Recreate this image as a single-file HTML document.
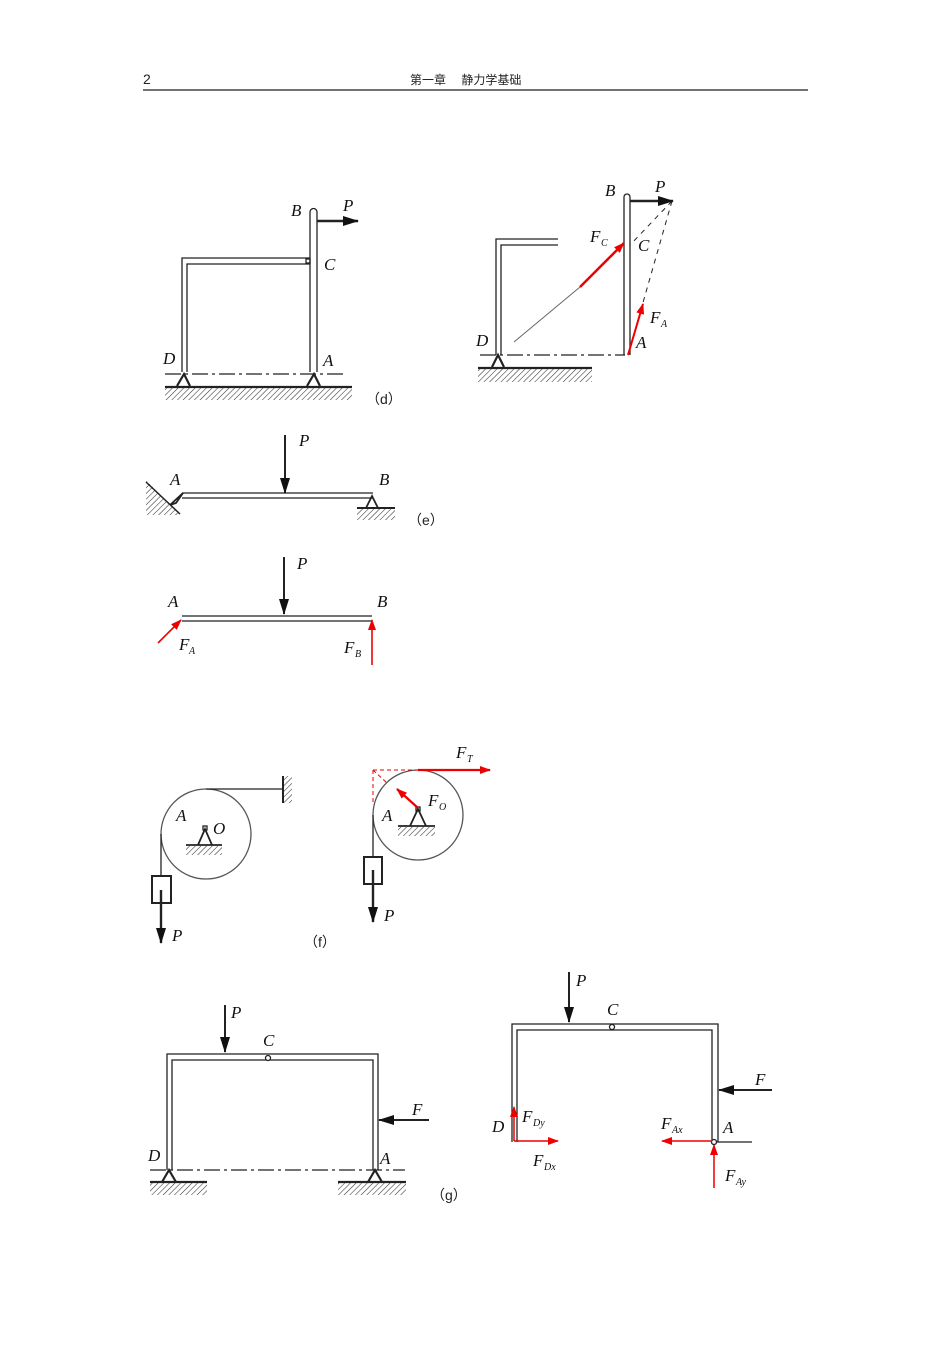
<!DOCTYPE html>
<html><head><meta charset="utf-8"><style>
body{margin:0;background:#fff}
svg{display:block}
.l{font-family:"Liberation Serif",serif;font-style:italic;font-size:17px;fill:#111}
.s{font-family:"Liberation Serif",serif;font-style:italic;font-size:10px;fill:#111}
.c{font-family:"Liberation Sans","Noto Sans CJK SC",sans-serif;font-size:13px;fill:#222}
</style></head><body>
<svg width="950" height="1345" viewBox="0 0 950 1345" xmlns="http://www.w3.org/2000/svg">
<defs>
<pattern id="h" width="4" height="4" patternUnits="userSpaceOnUse" patternTransform="rotate(45)"><line x1="0" y1="0" x2="0" y2="4" stroke="#333" stroke-width="1.1"/></pattern>
<marker id="ab" markerWidth="16" markerHeight="10" refX="15" refY="5" orient="auto" markerUnits="userSpaceOnUse"><path d="M0,0 L16,5 L0,10 z" fill="#111"/></marker>
<marker id="ar" markerWidth="11" markerHeight="8" refX="10" refY="4" orient="auto" markerUnits="userSpaceOnUse"><path d="M0,0 L11,4 L0,8 z" fill="#e00"/></marker>
</defs>
<line x1="143" y1="90" x2="808" y2="90" stroke="#444" stroke-width="1.4"/>
<text x="143" y="84" class="c" style="font-size:14px">2</text>
<text x="410" y="84" class="c" style="font-size:12px">第一章　 静力学基础</text>

<g fill="none" stroke="#222" stroke-width="1.3">
<!-- (d) left -->
<path d="M182,372 V258 H310 M187,372 V264 H310"/>
<path d="M310,372 V212 A3.5,3.5 0 0 1 317,212 V372"/>
<rect x="306" y="259" width="4" height="4"/>
<line x1="165" y1="374" x2="345" y2="374" stroke-dasharray="16,4,3,4"/>
<path d="M177,386 L184,374 L190,386 M307,386 L314,374 L320,386" stroke-width="2.2"/>
<line x1="165" y1="387" x2="352" y2="387" stroke-width="2.2"/>
<rect x="165" y="388" width="187" height="12" fill="url(#h)" stroke="none"/>
<line x1="317" y1="221" x2="358" y2="221" stroke-width="2.4" marker-end="url(#ab)"/>
<!-- (d) right -->
<path d="M496,355 V239 H558 M501,355 V245 H558"/>
<path d="M624,355 V197 A3,3 0 0 1 630,197 V355"/>
<line x1="480" y1="355" x2="625" y2="355" stroke-dasharray="16,4,3,4"/>
<path d="M492,367 L498,355 L504,367" stroke-width="2.2"/>
<line x1="478" y1="368" x2="592" y2="368" stroke-width="2.2"/>
<rect x="478" y="369" width="114" height="13" fill="url(#h)" stroke="none"/>
<line x1="630" y1="201" x2="673" y2="201" stroke-width="2.4" marker-end="url(#ab)"/>
<path d="M672,201 L630,245 M672,201 L628,355" stroke-dasharray="5,5" stroke-width="1"/>
<line x1="514" y1="342" x2="580" y2="287" stroke="#666" stroke-width="1"/>
<line x1="580" y1="287" x2="624" y2="243" stroke="#e00" stroke-width="2.5" marker-end="url(#ar)"/>
<line x1="628" y1="355" x2="643" y2="304" stroke="#e00" stroke-width="2" marker-end="url(#ar)"/>
<!-- (e) -->
<polygon points="146,480 146,515 180,515" fill="url(#h)" stroke="none"/>
<path d="M146,482 L180,514" stroke-width="1.5"/>
<path d="M170,505 L183,493 L176,503 Z" stroke-width="1.8"/>
<path d="M182,493 H373 M182,498 H373"/>
<path d="M366,508 L372,496 L378,508" stroke-width="1.8"/>
<line x1="357" y1="508" x2="395" y2="508" stroke-width="2"/>
<rect x="357" y="509" width="38" height="11" fill="url(#h)" stroke="none"/>
<line x1="285" y1="435" x2="285" y2="493" stroke-width="2" marker-end="url(#ab)"/>
<!-- (e) fbd -->
<path d="M182,616 H372 M182,621 H372"/>
<line x1="284" y1="557" x2="284" y2="614" stroke-width="2" marker-end="url(#ab)"/>
<line x1="158" y1="643" x2="181" y2="620" stroke="#e00" stroke-width="1.6" marker-end="url(#ar)"/>
<line x1="372" y1="665" x2="372" y2="620" stroke="#e00" stroke-width="1.6" marker-end="url(#ar)"/>
<!-- (f) left -->
<circle cx="206" cy="834" r="45" stroke="#555"/>
<path d="M161,834 V876 M206,789 H283"/>
<line x1="283" y1="776" x2="283" y2="803" stroke-width="2"/>
<rect x="284" y="776" width="8" height="27" fill="url(#h)" stroke="none"/>
<rect x="152" y="876" width="19" height="27" stroke-width="2"/>
<line x1="161" y1="890" x2="161" y2="943" stroke-width="2.4" marker-end="url(#ab)"/>
<path d="M198,845 L205,829 L212,845" stroke-width="1.8"/>
<rect x="203" y="826" width="4" height="4"/>
<line x1="186" y1="845" x2="222" y2="845" stroke-width="1.8"/>
<rect x="186" y="846" width="36" height="9" fill="url(#h)" stroke="none"/>
<!-- (f) right -->
<circle cx="418" cy="815" r="45" stroke="#555"/>
<path d="M373,815 V857"/>
<rect x="364" y="857" width="18" height="27" stroke-width="2"/>
<line x1="373" y1="870" x2="373" y2="922" stroke-width="2.4" marker-end="url(#ab)"/>
<path d="M410,826 L418,809 L426,826" stroke-width="1.8"/>
<rect x="416" y="807" width="4" height="4"/>
<line x1="398" y1="826" x2="435" y2="826" stroke-width="1.8"/>
<rect x="398" y="827" width="37" height="9" fill="url(#h)" stroke="none"/>
<line x1="418" y1="770" x2="490" y2="770" stroke="#e00" stroke-width="2.2" marker-end="url(#ar)"/>
<path d="M373,770 H418 M373,770 V805 M373,770 L388,784" stroke="#e00" stroke-width="1" stroke-dasharray="4,3"/>
<line x1="418" y1="808" x2="397" y2="789" stroke="#e00" stroke-width="2.2" marker-end="url(#ar)"/>
<!-- (g) left -->
<path d="M167,1170 V1054 H378 V1170 M172,1170 V1060 H373 V1170"/>
<circle cx="268" cy="1058" r="2.5" fill="#fff"/>
<line x1="225" y1="1005" x2="225" y2="1052" stroke-width="2" marker-end="url(#ab)"/>
<line x1="429" y1="1120" x2="379" y2="1120" stroke-width="2" marker-end="url(#ab)"/>
<line x1="150" y1="1170" x2="405" y2="1170" stroke-dasharray="16,4,3,4"/>
<path d="M162,1182 L169,1170 L176,1182 M368,1182 L375,1170 L382,1182" stroke-width="2.2"/>
<line x1="150" y1="1182" x2="207" y2="1182" stroke-width="2.2"/>
<line x1="338" y1="1182" x2="406" y2="1182" stroke-width="2.2"/>
<rect x="150" y="1183" width="57" height="12" fill="url(#h)" stroke="none"/>
<rect x="338" y="1183" width="68" height="12" fill="url(#h)" stroke="none"/>
<!-- (g) right -->
<path d="M512,1142 V1024 H718 V1142 M517,1142 V1030 H712 V1142"/>
<circle cx="612" cy="1027" r="2.5" fill="#fff"/>
<line x1="569" y1="972" x2="569" y2="1022" stroke-width="2" marker-end="url(#ab)"/>
<line x1="772" y1="1090" x2="719" y2="1090" stroke-width="2" marker-end="url(#ab)"/>
<line x1="716" y1="1142" x2="752" y2="1142"/>
<circle cx="714" cy="1142" r="2.5" fill="#fff"/>
<line x1="514" y1="1141" x2="514" y2="1107" stroke="#e00" stroke-width="1.5" marker-end="url(#ar)"/>
<line x1="514" y1="1141" x2="558" y2="1141" stroke="#e00" stroke-width="1.5" marker-end="url(#ar)"/>
<line x1="712" y1="1141" x2="662" y2="1141" stroke="#e00" stroke-width="1.5" marker-end="url(#ar)"/>
<line x1="714" y1="1188" x2="714" y2="1145" stroke="#e00" stroke-width="1.5" marker-end="url(#ar)"/>
</g>
<!-- labels -->
<text x="291" y="216" class="l">B</text><text x="343" y="211" class="l">P</text>
<text x="324" y="270" class="l">C</text><text x="163" y="364" class="l">D</text><text x="323" y="366" class="l">A</text>
<text x="366" y="404" class="c" style="font-size:14px">（d）</text>
<text x="605" y="196" class="l">B</text><text x="655" y="192" class="l">P</text>
<text x="590" y="242" class="l">F</text><text x="601" y="246" class="s">C</text>
<text x="638" y="251" class="l">C</text>
<text x="650" y="323" class="l">F</text><text x="661" y="327" class="s">A</text>
<text x="636" y="348" class="l">A</text><text x="476" y="346" class="l">D</text>
<text x="170" y="485" class="l">A</text><text x="299" y="446" class="l">P</text><text x="379" y="485" class="l">B</text>
<text x="408" y="525" class="c" style="font-size:14px">（e）</text>
<text x="168" y="607" class="l">A</text><text x="297" y="569" class="l">P</text><text x="377" y="607" class="l">B</text>
<text x="179" y="650" class="l">F</text><text x="189" y="654" class="s">A</text>
<text x="344" y="653" class="l">F</text><text x="355" y="657" class="s">B</text>
<text x="176" y="821" class="l">A</text><text x="213" y="834" class="l">O</text><text x="172" y="941" class="l">P</text>
<text x="456" y="758" class="l">F</text><text x="467" y="762" class="s">T</text>
<text x="428" y="806" class="l">F</text><text x="439" y="810" class="s">O</text>
<text x="382" y="821" class="l">A</text><text x="384" y="921" class="l">P</text>
<text x="304" y="947" class="c" style="font-size:14px">（f）</text>
<text x="231" y="1018" class="l">P</text><text x="263" y="1046" class="l">C</text>
<text x="412" y="1115" class="l">F</text><text x="148" y="1161" class="l">D</text><text x="380" y="1164" class="l">A</text>
<text x="431" y="1200" class="c" style="font-size:14px">（g）</text>
<text x="576" y="986" class="l">P</text><text x="607" y="1015" class="l">C</text>
<text x="755" y="1085" class="l">F</text>
<text x="492" y="1132" class="l">D</text>
<text x="522" y="1122" class="l">F</text><text x="533" y="1126" class="s">Dy</text>
<text x="533" y="1166" class="l">F</text><text x="544" y="1170" class="s">Dx</text>
<text x="661" y="1129" class="l">F</text><text x="672" y="1133" class="s">Ax</text>
<text x="723" y="1133" class="l">A</text>
<text x="725" y="1181" class="l">F</text><text x="736" y="1185" class="s">Ay</text>
</svg>
</body></html>
